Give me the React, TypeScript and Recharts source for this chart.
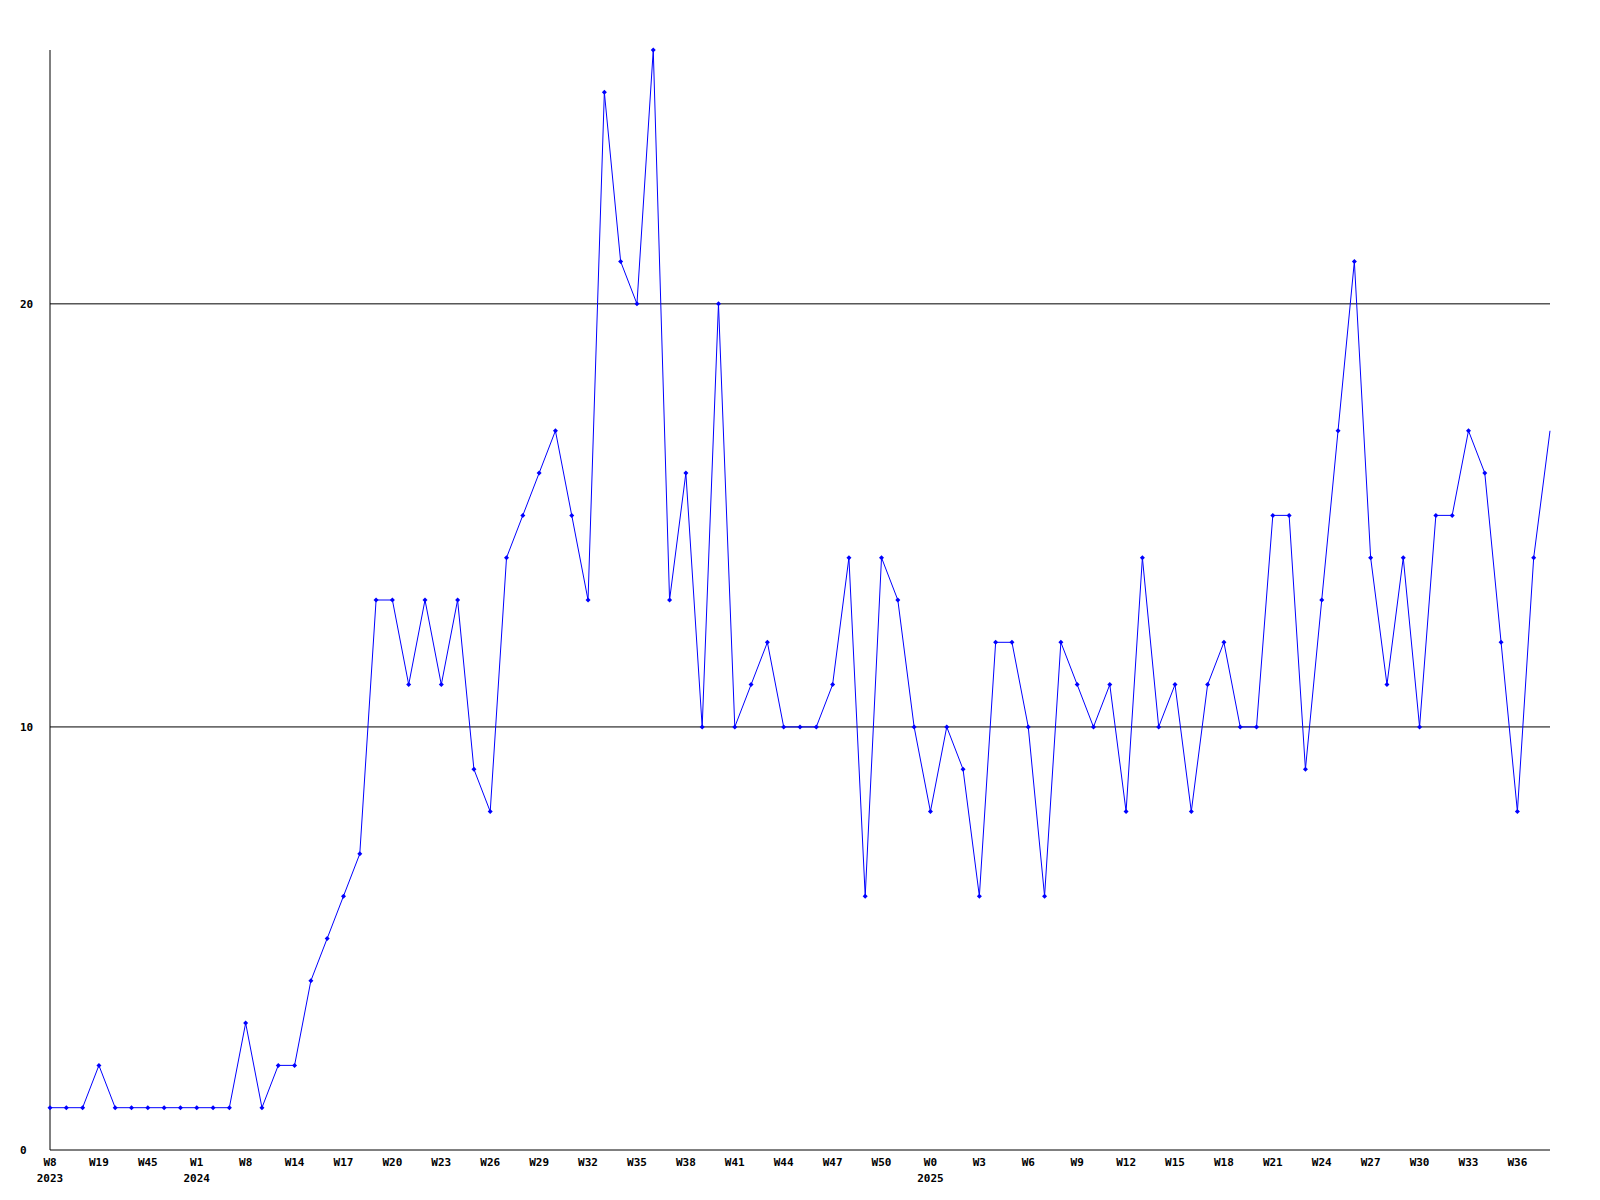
import React from 'react';
import { LineChart, Line, XAxis, YAxis, CartesianGrid } from 'recharts';

// week labels, one per point (the unlabeled early weeks are guesses)
const weeks = [
  'W8', 'W12', 'W15', 'W19', 'W27', 'W36', 'W45', 'W48', 'W51',
  'W1', 'W3', 'W6', 'W8', 'W10', 'W12',
  'W14', 'W15', 'W16', 'W17', 'W18', 'W19', 'W20', 'W21', 'W22', 'W23', 'W24', 'W25',
  'W26', 'W27', 'W28', 'W29', 'W30', 'W31', 'W32', 'W33', 'W34', 'W35', 'W36', 'W37',
  'W38', 'W39', 'W40', 'W41', 'W42', 'W43', 'W44', 'W45', 'W46', 'W47', 'W48', 'W49',
  'W50', 'W51', 'W52',
  'W0', 'W1', 'W2', 'W3', 'W4', 'W5', 'W6', 'W7', 'W8', 'W9', 'W10', 'W11', 'W12',
  'W13', 'W14', 'W15', 'W16', 'W17', 'W18', 'W19', 'W20', 'W21', 'W22', 'W23', 'W24',
  'W25', 'W26', 'W27', 'W28', 'W29', 'W30', 'W31', 'W32', 'W33', 'W34', 'W35', 'W36',
  'W37', 'W38',
];

// year shown under the tick where a new year starts
const yearStarts: Record<number, string> = { 0: '2023', 9: '2024', 54: '2025' };

const counts = [
  1, 1, 1, 2, 1, 1, 1, 1, 1, 1, 1, 1, 3, 1, 2, 2, 4, 5, 6, 7,
  13, 13, 11, 13, 11, 13, 9, 8, 14, 15, 16, 17, 15, 13, 25, 21, 20, 26, 13, 16,
  10, 20, 10, 11, 12, 10, 10, 10, 11, 14, 6, 14, 13, 10, 8, 10, 9, 6, 12, 12,
  10, 6, 12, 11, 10, 11, 8, 14, 10, 11, 8, 11, 12, 10, 10, 15, 15, 9, 13, 17,
  21, 14, 11, 14, 10, 15, 15, 17, 16, 12, 8, 14, 17,
];

const yTicks = [0, 10, 20];
const gridValues = [10, 20];

const data = weeks.map((w, i) => ({ idx: i, week: w, value: counts[i] }));

const FONT = '"DejaVu Sans Mono", monospace';

const XTick = (props: any) => {
  const { x, y, payload } = props;
  const year = yearStarts[payload.index];
  return (
    <g>
      <text x={x} y={y + 8} textAnchor="middle" fontFamily={FONT} fontWeight="bold" fontSize={11} fill="#000">
        {payload.value}
      </text>
      {year && (
        <text x={x} y={y + 24} textAnchor="middle" fontFamily={FONT} fontWeight="bold" fontSize={11} fill="#000">
          {year}
        </text>
      )}
    </g>
  );
};

const YTick = (props: any) => {
  const { y, payload } = props;
  return (
    <text x={20} y={y + 4} textAnchor="start" fontFamily={FONT} fontWeight="bold" fontSize={11} fill="#000">
      {payload.value}
    </text>
  );
};

const Diamond = (props: any) => {
  const { cx, cy, index } = props;
  if (index === counts.length - 1 || cx == null) return <g key={index} />;
  return (
    <polygon
      key={index}
      points={`${cx},${cy - 2.5} ${cx + 2.5},${cy} ${cx},${cy + 2.5} ${cx - 2.5},${cy}`}
      fill="#0000ff"
    />
  );
};

export default function App() {
  return (
    <div style={{ position: 'absolute', left: 0, top: 0, width: 1600, height: 1200, background: '#fff' }}>
      <LineChart width={1600} height={1200} data={data} margin={{ top: 50, right: 50, bottom: 0, left: 0 }}>
        <CartesianGrid horizontal vertical={false} horizontalValues={gridValues} stroke="#000" strokeWidth={1} />
        <XAxis
          dataKey="week"
          interval={2}
          height={50}
          axisLine={{ stroke: '#000' }}
          tickLine={false}
          tick={<XTick />}
        />
        <YAxis
          width={50}
          domain={[0, 26]}
          ticks={yTicks}
          axisLine={{ stroke: '#000' }}
          tickLine={false}
          tick={<YTick />}
        />
        <Line
          type="linear"
          dataKey="value"
          stroke="#0000ff"
          strokeWidth={1}
          dot={<Diamond />}
          activeDot={false}
          isAnimationActive={false}
        />
      </LineChart>
    </div>
  );
}
